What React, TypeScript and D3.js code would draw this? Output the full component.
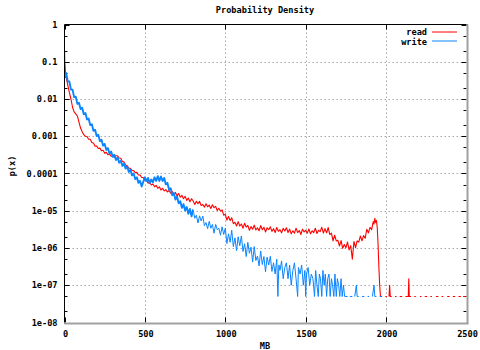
import React from 'react';
import * as d3 from 'd3';

type Pt = [number, number | null];

const chartTitle = 'Probability Density';
const xLabel = 'MB';
const yLabel = 'p(x)';
const xTicks = [0, 500, 1000, 1500, 2000, 2500];
const yTicks = [1e-8, 1e-7, 1e-6, 1e-5, 1e-4, 1e-3, 1e-2, 1e-1, 1];
const yTickLabels = ['1e-08', '1e-07', '1e-06', '1e-05', '0.0001', '0.001', '0.01', '0.1', '1'];
const yMinorMultipliers = [2, 5];
const seriesNames = ['read', 'write'];

const readSeries: Pt[] = [
  [0, 2.1e-1], [2, 1.0e-1], [5, 6.3e-2], [10, 4.0e-2], [20, 2.4e-2], [30, 1.5e-2], [40, 1.0e-2], [50, 6.0e-3],
  [60, 4.5e-3], [70, 4.0e-3], [80, 3.5e-3], [90, 2.4e-3], [100, 1.66e-3], [110, 1.32e-3], [120, 1.1e-3], [130, 1.0e-3],
  [140, 9.8e-4], [150, 8.3e-4], [160, 8.3e-4], [170, 6.8e-4], [180, 6.6e-4], [190, 5.4e-4], [200, 5.5e-4], [210, 4.7e-4],
  [220, 4.8e-4], [230, 4.1e-4], [240, 4.2e-4], [250, 3.5e-4], [260, 3.7e-4], [270, 3.2e-4], [280, 3.3e-4], [290, 2.9e-4],
  [300, 3.0e-4], [310, 2.7e-4], [320, 3.0e-4], [330, 3.0e-4], [340, 2.6e-4], [350, 2.57e-4], [360, 2.1e-4], [370, 2.05e-4],
  [380, 1.7e-4], [390, 1.62e-4], [400, 1.38e-4], [410, 1.38e-4], [420, 1.2e-4], [430, 1.2e-4], [440, 1.05e-4], [450, 1.07e-4],
  [460, 9.1e-5], [470, 9.1e-5], [480, 7.8e-5], [490, 7.8e-5], [500, 6.5e-5], [510, 6.8e-5], [520, 5.5e-5], [530, 5.9e-5],
  [540, 4.9e-5], [550, 5.2e-5], [560, 4.4e-5], [570, 4.8e-5], [580, 4.0e-5], [590, 4.4e-5], [600, 3.6e-5], [610, 4.0e-5],
  [620, 3.4e-5], [630, 3.7e-5], [640, 3.2e-5], [650, 3.5e-5], [660, 2.95e-5], [670, 3.3e-5], [680, 2.7e-5], [690, 3.1e-5],
  [700, 2.5e-5], [710, 2.9e-5], [720, 2.3e-5], [730, 2.6e-5], [740, 2.1e-5], [750, 2.45e-5], [760, 1.9e-5], [770, 2.2e-5],
  [780, 1.74e-5], [790, 2.1e-5], [800, 1.84e-5], [810, 1.48e-5], [820, 1.79e-5], [830, 1.54e-5], [840, 1.78e-5], [850, 1.39e-5],
  [860, 1.47e-5], [870, 1.25e-5], [880, 1.54e-5], [890, 1.28e-5], [900, 1.41e-5], [910, 1.15e-5], [920, 1.45e-5], [930, 1.21e-5],
  [940, 1.31e-5], [950, 1.02e-5], [960, 1.17e-5], [970, 9.8e-6], [980, 1.06e-5], [990, 7.6e-6], [1000, 8.0e-6], [1010, 5.6e-6],
  [1020, 7.0e-6], [1030, 5.5e-6], [1040, 6.5e-6], [1050, 4.5e-6], [1060, 4.9e-6], [1070, 3.9e-6], [1080, 5.1e-6], [1090, 3.9e-6],
  [1100, 4.4e-6], [1110, 3.4e-6], [1120, 4.6e-6], [1130, 3.65e-6], [1140, 4.05e-6], [1150, 3.0e-6], [1160, 3.75e-6], [1170, 3.2e-6],
  [1180, 4.1e-6], [1190, 3.05e-6], [1200, 3.5e-6], [1210, 2.9e-6], [1220, 4.0e-6], [1230, 3.1e-6], [1240, 3.6e-6], [1250, 2.7e-6],
  [1260, 3.5e-6], [1270, 3.1e-6], [1280, 3.7e-6], [1290, 2.8e-6], [1300, 3.3e-6], [1310, 2.6e-6], [1320, 3.55e-6], [1330, 2.8e-6],
  [1340, 3.1e-6], [1350, 2.55e-6], [1360, 3.4e-6], [1370, 2.85e-6], [1380, 3.5e-6], [1390, 2.6e-6], [1400, 3.2e-6], [1410, 2.4e-6],
  [1420, 2.9e-6], [1430, 2.5e-6], [1440, 3.4e-6], [1450, 2.6e-6], [1460, 2.95e-6], [1470, 2.3e-6], [1480, 3.2e-6], [1490, 2.7e-6],
  [1500, 3.0e-6], [1510, 2.5e-6], [1520, 3.25e-6], [1530, 2.4e-6], [1540, 2.9e-6], [1550, 2.6e-6], [1560, 3.4e-6], [1570, 2.45e-6],
  [1580, 3.0e-6], [1590, 2.75e-6], [1600, 3.6e-6], [1610, 2.5e-6], [1620, 3.3e-6], [1630, 2.55e-6], [1640, 3.55e-6], [1650, 2.3e-6],
  [1660, 2.5e-6], [1670, 1.55e-6], [1680, 2.2e-6], [1690, 1.55e-6], [1700, 1.6e-6], [1710, 1.13e-6], [1720, 1.58e-6], [1730, 9.8e-7],
  [1740, 1.24e-6], [1750, 1.01e-6], [1760, 1.45e-6], [1770, 8.9e-7], [1780, 1.15e-6], [1790, 5.0e-7], [1800, 1.5e-6], [1810, 1.02e-6],
  [1820, 1.56e-6], [1830, 1.44e-6], [1840, 2.1e-6], [1850, 1.56e-6], [1860, 2.15e-6], [1870, 1.83e-6], [1880, 3.2e-6], [1890, 2.55e-6],
  [1900, 3.6e-6], [1910, 3.1e-6], [1920, 5.1e-6], [1925, 4.4e-6], [1930, 6.3e-6], [1935, 4.8e-6], [1940, 5.5e-6], [1945, 3.5e-6],
  [1950, 1.26e-6], [1955, 3.2e-7], [1960, 1.0e-7], [1965, 5e-8], [1975, 5e-8], [1980, null], [1995, 5e-8], [2005, 5e-8],
  [2010, null], [2018, 5e-8], [2022, 1e-7], [2026, 5e-8], [2035, 5e-8], [2040, null], [2055, 5e-8], [2065, 5e-8],
  [2070, null], [2085, 5e-8], [2100, 5e-8], [2105, null], [2120, 5e-8], [2138, 5e-8], [2141, 1.5e-7], [2144, 5e-8],
  [2155, 5e-8], [2160, null], [2175, 5e-8], [2185, 5e-8], [2190, null], [2210, 5e-8], [2220, 5e-8], [2225, null],
  [2240, 5e-8], [2255, 5e-8], [2260, null], [2275, 5e-8], [2285, 5e-8], [2290, null], [2310, 5e-8], [2325, 5e-8],
  [2330, null], [2345, 5e-8], [2355, 5e-8], [2360, null], [2380, 5e-8], [2395, 5e-8], [2400, null], [2415, 5e-8],
  [2430, 5e-8], [2435, null], [2450, 5e-8], [2465, 5e-8], [2470, null], [2480, 5e-8], [2495, 5e-8],
];

const writeSeries: Pt[] = [
  [0, 7.1e-2], [5, 3.8e-2], [10, 5.0e-2], [20, 3.0e-2], [30, 2.95e-2], [40, 1.78e-2], [50, 1.78e-2], [60, 1.12e-2],
  [70, 1.15e-2], [80, 7.4e-3], [90, 7.9e-3], [100, 5.4e-3], [110, 5.8e-3], [120, 3.9e-3], [130, 4.2e-3], [140, 2.8e-3],
  [150, 3.0e-3], [160, 2.0e-3], [170, 2.1e-3], [180, 1.4e-3], [190, 1.5e-3], [200, 1.02e-3], [210, 1.1e-3], [220, 7.4e-4],
  [230, 8.1e-4], [240, 5.6e-4], [250, 6.2e-4], [260, 4.3e-4], [270, 4.8e-4], [280, 3.4e-4], [290, 3.9e-4], [300, 2.8e-4],
  [310, 3.2e-4], [320, 2.3e-4], [330, 2.7e-4], [340, 1.95e-4], [350, 2.2e-4], [360, 1.6e-4], [370, 1.86e-4], [380, 1.35e-4],
  [390, 1.55e-4], [400, 1.1e-4], [410, 1.26e-4], [420, 8.9e-5], [430, 1.0e-4], [440, 7.1e-5], [450, 7.9e-5], [460, 5.6e-5],
  [470, 6.3e-5], [480, 4.5e-5], [490, 6.0e-5], [500, 7.9e-5], [510, 6.3e-5], [520, 7.6e-5], [530, 5.5e-5], [540, 6.9e-5],
  [550, 5.8e-5], [560, 7.9e-5], [570, 6.3e-5], [580, 8.5e-5], [590, 6.3e-5], [600, 8.3e-5], [610, 6.3e-5], [620, 7.6e-5],
  [630, 5.1e-5], [640, 5.6e-5], [650, 3.7e-5], [660, 4.0e-5], [670, 2.6e-5], [680, 3.0e-5], [690, 2.0e-5], [700, 2.4e-5],
  [710, 1.58e-5], [720, 1.8e-5], [730, 1.2e-5], [740, 1.5e-5], [750, 1.02e-5], [760, 1.26e-5], [770, 8.3e-6], [780, 1.12e-5],
  [790, 7.1e-6], [800, 1.06e-5], [810, 6.3e-6], [820, 7.6e-6], [830, 4.7e-6], [840, 7.3e-6], [850, 5.3e-6], [860, 7.2e-6],
  [870, 4.0e-6], [880, 4.8e-6], [890, 3.3e-6], [900, 5.2e-6], [910, 3.4e-6], [920, 4.3e-6], [930, 2.5e-6], [940, 4.3e-6],
  [950, 3.1e-6], [960, 3.4e-6], [970, 2.2e-6], [980, 3.7e-6], [990, 2.3e-6], [1000, 3.4e-6], [1010, 1.32e-6], [1020, 2.4e-6],
  [1030, 1.43e-6], [1040, 3.0e-6], [1050, 1.09e-6], [1060, 1.87e-6], [1070, 8.5e-7], [1080, 2.0e-6], [1090, 1.15e-6], [1100, 2.1e-6],
  [1110, 8.1e-7], [1120, 1.3e-6], [1130, 5.9e-7], [1140, 1.42e-6], [1150, 7.2e-7], [1160, 1.05e-6], [1170, 4.2e-7], [1180, 1.09e-6],
  [1190, 4.6e-7], [1200, 6.1e-7], [1210, 3.3e-7], [1220, 8.3e-7], [1230, 3.6e-7], [1240, 5.9e-7], [1250, 2.3e-7], [1260, 5.7e-7],
  [1270, 3.5e-7], [1280, 6.0e-7], [1290, 2.35e-7], [1300, 4.0e-7], [1310, 2.0e-7], [1320, 5.0e-7], [1327, 5e-8], [1333, 3.5e-7],
  [1340, 2.5e-7], [1350, 4.5e-7], [1360, 1.5e-7], [1370, 3.0e-7], [1380, 4.0e-7], [1390, 1.5e-7], [1400, 3.5e-7], [1410, 1.0e-7],
  [1420, 2.5e-7], [1430, 4.0e-7], [1440, 1.5e-7], [1450, 5e-8], [1455, 3.0e-7], [1465, 2.0e-7], [1475, 3.5e-7], [1485, 1.0e-7],
  [1495, 2.5e-7], [1500, 5e-8], [1505, 2.0e-7], [1515, 3.0e-7], [1525, 1.0e-7], [1535, 2.0e-7], [1545, 1.5e-7], [1555, 5e-8],
  [1562, 2.5e-7], [1570, 1.0e-7], [1578, 5e-8], [1585, 2.0e-7], [1592, 1.5e-7], [1600, 5e-8], [1607, 2.5e-7], [1615, 1.0e-7],
  [1622, 2.0e-7], [1630, 5e-8], [1637, 1.5e-7], [1645, 2.0e-7], [1652, 5e-8], [1660, 1.5e-7], [1667, 1.0e-7], [1675, 5e-8],
  [1682, 2.0e-7], [1690, 5e-8], [1697, 1.5e-7], [1705, 1.0e-7], [1712, 5e-8], [1720, 1.5e-7], [1727, 5e-8], [1735, 1.0e-7],
  [1742, 5e-8], [1750, 5e-8], [1760, 5e-8], [1765, null], [1775, 5e-8], [1790, 5e-8], [1795, null], [1805, 5e-8],
  [1815, 1e-7], [1820, 5e-8], [1830, 5e-8], [1835, null], [1850, 5e-8], [1865, 5e-8], [1870, null], [1885, 5e-8],
  [1895, 5e-8], [1900, null], [1915, 5e-8], [1925, 1e-7], [1930, 5e-8], [1940, 5e-8], [1945, null], [1960, 5e-8],
  [1970, 5e-8],
];

const READ_COLOR = '#ff0000';
const WRITE_COLOR = '#0a84ff';
const FONT = "'DejaVu Sans Mono', monospace";

export default function App() {
  const left = 64.5, right = 466.5, top = 24.5, bottom = 322.5;
  const x = d3.scaleLinear().domain([0, 2500]).range([left, right]);
  const y = d3.scaleLog().domain([1e-8, 1]).range([bottom, top]);
  const line = d3
    .line<Pt>()
    .defined((d) => d[1] != null)
    .x((d) => x(d[0]))
    .y((d) => y(d[1] as number));

  const minorTicks: number[] = [];
  for (let i = 0; i < yTicks.length - 1; i++) {
    for (const m of yMinorMultipliers) minorTicks.push(yTicks[i] * m);
  }
  const split = x(800);
  const readPath = line(readSeries) || '';
  const writePath = line(writeSeries) || '';

  return (
    <svg
      width={480}
      height={350}
      style={{ position: 'absolute', left: 0, top: 0, background: '#fff' }}
      fontFamily={FONT}
      fontWeight="bold"
      fontSize={8.6}
    >
      <defs>
        <clipPath id="plotclip">
          <rect x={left} y={top} width={right - left} height={bottom - top + 1} />
        </clipPath>
        <clipPath id="clipA">
          <rect x={left} y={top} width={split - left} height={bottom - top + 1} />
        </clipPath>
        <clipPath id="clipB">
          <rect x={split} y={top} width={right - split} height={bottom - top + 1} />
        </clipPath>
      </defs>
      <rect x={0} y={0} width={480} height={350} fill="#fff" />
      <text x={265} y={13} textAnchor="middle">{chartTitle}</text>

      {/* grid */}
      <g stroke="#a8a8a8" strokeWidth={1} strokeDasharray="1.5,2.5">
        {xTicks.slice(1, -1).map((t) => (
          <line key={'gx' + t} x1={Math.round(x(t)) + 0.5} x2={Math.round(x(t)) + 0.5} y1={top} y2={bottom} />
        ))}
        {yTicks.slice(1, -1).map((t) => (
          <line key={'gy' + t} x1={left} x2={right} y1={Math.round(y(t)) + 0.5} y2={Math.round(y(t)) + 0.5} />
        ))}
      </g>

      {/* ticks */}
      <g stroke="#000" strokeWidth={1}>
        {yTicks.map((t) => {
          const yy = Math.round(y(t)) + 0.5;
          return (
            <g key={'yt' + t}>
              <line x1={left} x2={left + 5} y1={yy} y2={yy} />
              <line x1={right - 5} x2={right} y1={yy} y2={yy} />
            </g>
          );
        })}
        {minorTicks.map((t) => {
          const yy = Math.round(y(t)) + 0.5;
          return (
            <g key={'ym' + t}>
              <line x1={left} x2={left + 3} y1={yy} y2={yy} />
              <line x1={right - 3} x2={right} y1={yy} y2={yy} />
            </g>
          );
        })}
        {xTicks.map((t) => {
          const xx = Math.round(x(t)) + 0.5;
          return (
            <g key={'xt' + t}>
              <line x1={xx} x2={xx} y1={bottom} y2={bottom - 5} />
              <line x1={xx} x2={xx} y1={top} y2={top + 5} />
            </g>
          );
        })}
      </g>

      {/* data */}
      <g fill="none" strokeLinejoin="round">
        <path d={readPath} stroke={READ_COLOR} strokeWidth={1.1} clipPath="url(#plotclip)" />
        <path d={writePath} stroke={WRITE_COLOR} strokeWidth={1.9} clipPath="url(#clipA)" />
        <path d={writePath} stroke={WRITE_COLOR} strokeWidth={1} clipPath="url(#clipB)" />
      </g>

      {/* border */}
      <line x1={right + 1} x2={right + 1} y1={top} y2={bottom + 1} stroke="#a0a0a0" strokeWidth={2} />
      <line x1={left} x2={right + 2} y1={bottom + 1} y2={bottom + 1} stroke="#a0a0a0" strokeWidth={2} />
      <line x1={left} x2={right} y1={top} y2={top} stroke="#000" strokeWidth={1} />
      <line x1={left} x2={left} y1={top} y2={bottom} stroke="#000" strokeWidth={1} />

      {/* tick labels */}
      {yTicks.map((t, i) => (
        <text key={'yl' + t} x={57.5} y={y(t)} dy="0.35em" textAnchor="end">{yTickLabels[i]}</text>
      ))}
      {xTicks.map((t) => (
        <text key={'xl' + t} x={x(t) + 1} y={336.5} textAnchor="middle">{String(t)}</text>
      ))}
      <text x={265} y={349} textAnchor="middle">{xLabel}</text>
      <text transform="translate(15,166) rotate(-90)" textAnchor="middle">{yLabel}</text>

      {/* legend */}
      <text x={427} y={35} textAnchor="end">{seriesNames[0]}</text>
      <line x1={432} x2={457} y1={32} y2={32} stroke={READ_COLOR} strokeWidth={1} />
      <text x={427} y={44.5} textAnchor="end">{seriesNames[1]}</text>
      <line x1={432} x2={457} y1={41} y2={41} stroke={WRITE_COLOR} strokeWidth={1} />
    </svg>
  );
}
